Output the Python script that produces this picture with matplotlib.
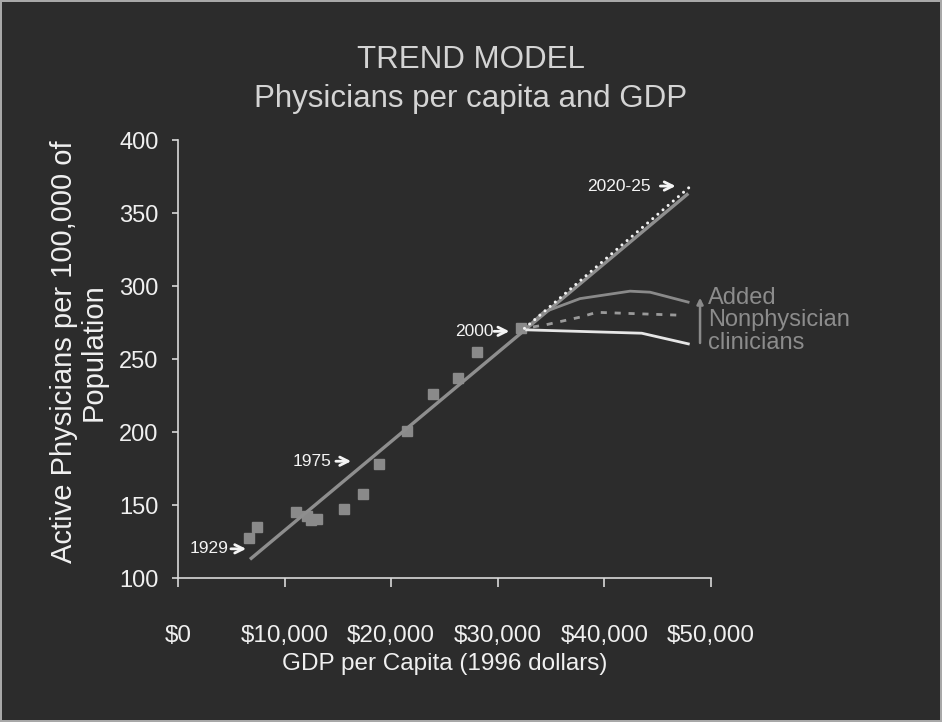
import numpy as np
import matplotlib
matplotlib.use("Agg")
import matplotlib.pyplot as plt

# Observed physician supply vs GDP per capita (1929 ... 2000)
gdp = [6660, 7440, 11070, 12070, 12450, 13040, 15540, 17330, 18810,
       21500, 23950, 26240, 28020, 32150]
physicians = [127.5, 135, 145.5, 142.5, 139.8, 140.7, 147.6, 157.4, 177.8,
              200.9, 226.1, 237.1, 255.1, 271.4]

# Fitted trend line end points
trend_x = [6750, 47870]
trend_y = [112.8, 363.4]

# Trend projection 2000 -> 2020-25
proj_x = [32500, 48100]
proj_y = [271.0, 368.5]

# Scenario curves after 2000
upper_x = [32500, 34270, 37710, 42400, 44280, 47850]
upper_y = [270.0, 282.0, 291.4, 296.5, 295.8, 289.0]
mid_x = [33300, 34580, 37710, 39280, 47250]
mid_y = [272.0, 273.6, 278.7, 282.0, 280.0]
lower_x = [32710, 43500, 47870]
lower_y = [270.0, 267.7, 260.4]

# Year call-outs: text, arrow tip (x, y), gap between text and tip in points
year_labels = [("1929", 6390, 120.0, 12.5),
               ("1975", 16240, 180.0, 14.5),
               ("2000", 31080, 269.0, 11.0),
               ("2020-25", 46680, 368.5, 18.0)]

x_ticks = [0, 10000, 20000, 30000, 40000, 50000]
x_tick_labels = ["$0", "$10,000", "$20,000", "$30,000", "$40,000", "$50,000"]
y_ticks = [100, 150, 200, 250, 300, 350, 400]

bg = "#2c2c2c"
plt.rcParams["font.family"] = ["Liberation Sans", "DejaVu Sans"]

fig = plt.figure(figsize=(9.42, 7.22), dpi=100, facecolor=bg)
fig.patch.set_edgecolor("#a8a8a8")
fig.patch.set_linewidth(1.5)
ax = fig.add_axes([0.189, 0.1994, 0.5658, 0.6066])
ax.set_facecolor(bg)

ax.plot(trend_x, trend_y, color="#8e8e8e", lw=2.4, solid_capstyle="butt", zorder=3)
ax.plot(gdp, physicians, "s", color="#8a8a8a", markersize=7.5, zorder=2)
ax.plot(proj_x, proj_y, color="#f2f2f2", lw=2.2, linestyle=(0, (0.01, 2.2)),
        dash_capstyle="round", zorder=4)
ax.plot(upper_x, upper_y, color="#8a8a8a", lw=2.0, zorder=3)
ax.plot(mid_x, mid_y, color="#9a9a9a", lw=2.0, linestyle=(0, (2.2, 2.8)), zorder=3)
ax.plot(lower_x, lower_y, color="#e6e6e6", lw=2.0, zorder=3)

# Added nonphysician clinicians
ax.annotate("", xy=(48970, 292), xytext=(48970, 261),
            arrowprops=dict(arrowstyle="-|>", color="#8a8a8a", lw=1.8,
                            mutation_scale=9, shrinkA=0, shrinkB=0))
ax.text(49700, 276.5, "Added\nNonphysician\nclinicians", color="#8c8c8c",
        fontsize=17, ha="left", va="center", linespacing=1.02, clip_on=False)

for txt, x, y, gap in year_labels:
    ax.annotate(txt, xy=(x, y), xytext=(-gap, 0), textcoords="offset points",
                color="#f4f4f4", fontsize=12.5, ha="right", va="center")
    ax.annotate("", xy=(x, y), xytext=(-11, 0), textcoords="offset points",
                arrowprops=dict(arrowstyle="->", color="#f4f4f4", lw=2.0,
                                mutation_scale=15, shrinkA=0, shrinkB=0))

ax.set_xlim(0, 50000)
ax.set_ylim(100, 400)
ax.set_xticks(x_ticks)
ax.set_xticklabels(x_tick_labels)
ax.set_yticks(y_ticks)
for s in ["top", "right"]:
    ax.spines[s].set_visible(False)
for s in ["left", "bottom"]:
    ax.spines[s].set_color("#d8d8d8")
    ax.spines[s].set_linewidth(1.2)
ax.tick_params(axis="x", colors="#d8d8d8", length=6.5, width=1.2, pad=27,
               labelcolor="#f0f0f0", labelsize=17.5)
ax.tick_params(axis="y", colors="#d8d8d8", length=4, width=1.2, pad=10,
               labelcolor="#f0f0f0", labelsize=17)

ax.text(0.5, -0.196, "GDP per Capita (1996 dollars)", transform=ax.transAxes,
        ha="center", va="center", fontsize=17.5, color="#f0f0f0")
ax.text(-0.186, 0.516, "Active Physicians per 100,000 of\nPopulation",
        transform=ax.transAxes, rotation=90, ha="center", va="center",
        fontsize=21, color="#f0f0f0", linespacing=1.05)

fig.text(0.5, 1 - 68.3 / 722, "TREND MODEL", ha="center", va="baseline",
         fontsize=22.5, color="#d4d4d4")
fig.text(0.5, 1 - 106.7 / 722, "Physicians per capita and GDP", ha="center",
         va="baseline", fontsize=22.5, color="#d4d4d4")

fig.savefig("out.png", dpi=100, facecolor=bg, edgecolor=fig.get_edgecolor())
